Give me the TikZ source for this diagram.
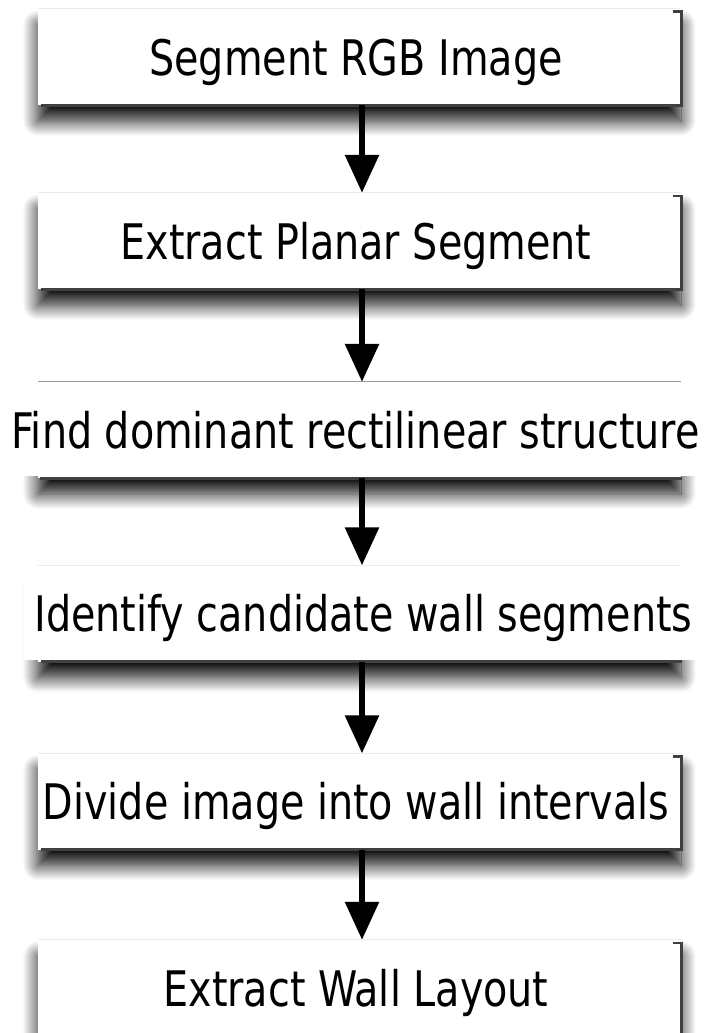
\documentclass[tikz,border=0pt]{standalone}
\usepackage{fontspec}
\newfontfamily\boxfont[FakeStretch=0.9]{DejaVu Sans Condensed}
\usetikzlibrary{arrows.meta,shadows.blur}
\newcommand\boxedge[1]{%
  \draw[edge] ([shift={(-8pt,-3pt)}]#1.north east) -- ([shift={(0pt,-3pt)}]#1.north east)
    -- (#1.south east) -- ([xshift=3pt]#1.south west);}
\begin{document}
\begin{tikzpicture}[x=1pt,y=-1pt,
  box/.style={minimum width=643pt, minimum height=96pt, inner sep=0pt, fill=white, draw=none,
    blur shadow={shadow xshift=0pt, shadow yshift=-16pt, shadow blur radius=15pt, shadow opacity=95, shadow blur steps=15}},
  lbl/.style={anchor=base, inner sep=0pt, font=\boxfont\fontsize{49}{58}\selectfont},
  edge/.style={draw=black!75, line width=2.6pt},
  topline/.style={draw=black!8, line width=1pt},
  arr/.style={line width=6pt, -{Triangle[length=38pt,width=33pt]}}
]
\useasboundingbox (0,0) rectangle (708,1033);

% boxes
\node[box] (b1) at (359.5,57) {};
\node[box] (b2) at (359.5,241) {};
\node[box] (b3) at (359.5,430) {};
\node[box] (b4) at (359.5,613.5) {};
\node[box] (b5) at (359.5,801.5) {};
\node[box] (b6) at (359.5,988) {};

% top lines
\draw[topline] (b1.north west) -- (b1.north east);
\draw[topline] (b2.north west) -- (b2.north east);
\draw[draw=black!40, line width=1.3pt] (b3.north west) -- (b3.north east);
\draw[topline] (b4.north west) -- (b4.north east);
\draw[topline] (b5.north west) -- (b5.north east);
\draw[topline] (b6.north west) -- (b6.north east);

% white covers where the text runs past the box
\fill[white] (4,384) rectangle (704,476);
\fill[white] (24,567) rectangle (704,660);

% right and bottom edges
\boxedge{b1}
\boxedge{b2}
\draw[edge] ([xshift=2pt]b3.south west) -- ([xshift=1pt]b3.south east);
\draw[edge] ([xshift=3pt]b4.south west) -- ([xshift=1pt]b4.south east);
\boxedge{b5}
\boxedge{b6}

% labels
\node[lbl] (t1) at ([shift={(-3.5pt,-18pt)}]b1.center) {Segment RGB Image};
\node[lbl] (t2) at ([shift={(-3.5pt,-18pt)}]b2.center) {Extract Planar Segment};
\node[lbl] (t3) at ([shift={(-4pt,-18pt)}]b3.center) {Find dominant rectilinear structure};
\node[lbl] (t4) at ([shift={(4pt,-18pt)}]b4.center) {Identify candidate wall segments};
\node[lbl] (t5) at ([shift={(-3.5pt,-18pt)}]b5.center) {Divide image into wall intervals};
\node[lbl] (t6) at ([shift={(-3.5pt,-18pt)}]b6.center) {Extract Wall Layout};

% arrows
\draw[arr] ([xshift=2.5pt]b1.south) -- ([xshift=2.5pt]b2.north);
\draw[arr] ([xshift=2.5pt]b2.south) -- ([xshift=2.5pt]b3.north);
\draw[arr] ([xshift=2.5pt]b3.south) -- ([xshift=2.5pt]b4.north);
\draw[arr] ([xshift=2.5pt]b4.south) -- ([xshift=2.5pt]b5.north);
\draw[arr] ([xshift=2.5pt]b5.south) -- ([xshift=2.5pt]b6.north);
\end{tikzpicture}
\end{document}
